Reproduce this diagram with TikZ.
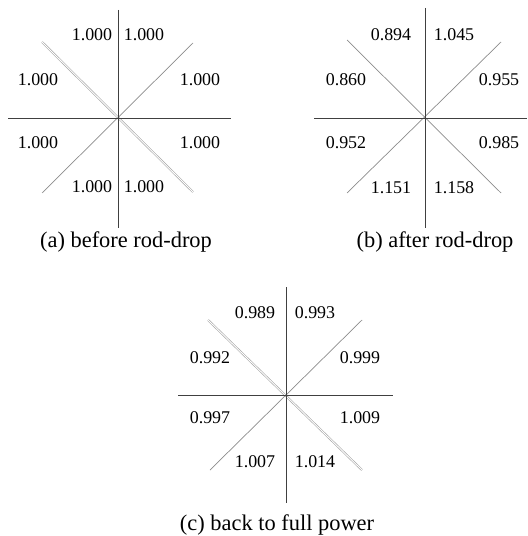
\documentclass[tikz,border=0pt]{standalone}
\usepackage{fontspec}
\setmainfont{Liberation Serif}
\begin{document}
\begin{tikzpicture}[x=1bp,y=-1bp,
  axis/.style={draw=black!75,line width=0.8bp},
  diag/.style={draw=black!45,line width=0.7bp},
  dbl/.style={draw=black!35,double=white,double distance=0.9bp,line width=0.6bp},
  val/.style={font=\fontsize{18}{20}\selectfont,inner sep=0pt},
  captext/.style={font=\fontsize{22.5}{26}\selectfont,inner sep=0pt}]
\useasboundingbox (0,0) rectangle (528,536);
% ---------- (a)
\coordinate (ac) at (118,118);
\coordinate (aN) at (118,10); \coordinate (aS) at (118,228);
\coordinate (aW) at (8,118); \coordinate (aE) at (231,118);
\coordinate (aNW) at (42,42); \coordinate (aSE) at (193,192);
\coordinate (aNE) at (193,43); \coordinate (aSW) at (42,193);
\draw[dbl] (aNW) -- (aSE);
\draw[diag] (aNE) -- (aSW);
\draw[axis] (aN) -- (aS);
\draw[axis] (aW) -- (aE);
\node[val] (a1) at (92,35) {1.000};
\node[val] (a2) at (144,35) {1.000};
\node[val] (a3) at (38,80) {1.000};
\node[val] (a4) at (200,80) {1.000};
\node[val] (a5) at (38,143) {1.000};
\node[val] (a6) at (200,143) {1.000};
\node[val] (a7) at (92,187) {1.000};
\node[val] (a8) at (144,187) {1.000};
\node[captext] (acap) at (126,242) {(a) before rod-drop};
% ---------- (b)
\coordinate (bc) at (425,118);
\coordinate (bN) at (425,8); \coordinate (bS) at (425,228);
\coordinate (bW) at (314,118); \coordinate (bE) at (527,118);
\coordinate (bNW) at (347,40); \coordinate (bSE) at (501,193);
\coordinate (bNE) at (501,42); \coordinate (bSW) at (347,193);
\draw[diag] (bNW) -- (bSE);
\draw[diag] (bNE) -- (bSW);
\draw[axis] (bN) -- (bS);
\draw[axis] (bW) -- (bE);
\node[val] (b1) at (391,35) {0.894};
\node[val] (b2) at (454,35) {1.045};
\node[val] (b3) at (346,80) {0.860};
\node[val] (b4) at (499,80) {0.955};
\node[val] (b5) at (346,143) {0.952};
\node[val] (b6) at (499,143) {0.985};
\node[val] (b7) at (391,188) {1.151};
\node[val] (b8) at (454,188) {1.158};
\node[captext] (bcap) at (435,242) {(b) after rod-drop};
% ---------- (c)
\coordinate (cc) at (286,395);
\coordinate (cN) at (286,287); \coordinate (cS) at (286,503);
\coordinate (cW) at (178,395); \coordinate (cE) at (393,395);
\coordinate (cNW) at (208,320); \coordinate (cSE) at (362,470);
\coordinate (cNE) at (362,320); \coordinate (cSW) at (210,470);
\draw[dbl] (cNW) -- (cSE);
\draw[diag] (cNE) -- (cSW);
\draw[axis] (cN) -- (cS);
\draw[axis] (cW) -- (cE);
\node[val] (c1) at (255,313) {0.989};
\node[val] (c2) at (315,313) {0.993};
\node[val] (c3) at (210,358) {0.992};
\node[val] (c4) at (360,358) {0.999};
\node[val] (c5) at (210,418) {0.997};
\node[val] (c6) at (360,418) {1.009};
\node[val] (c7) at (255,462) {1.007};
\node[val] (c8) at (315,462) {1.014};
\node[captext] (ccap) at (277,525) {(c) back to full power};
\end{tikzpicture}
\end{document}
